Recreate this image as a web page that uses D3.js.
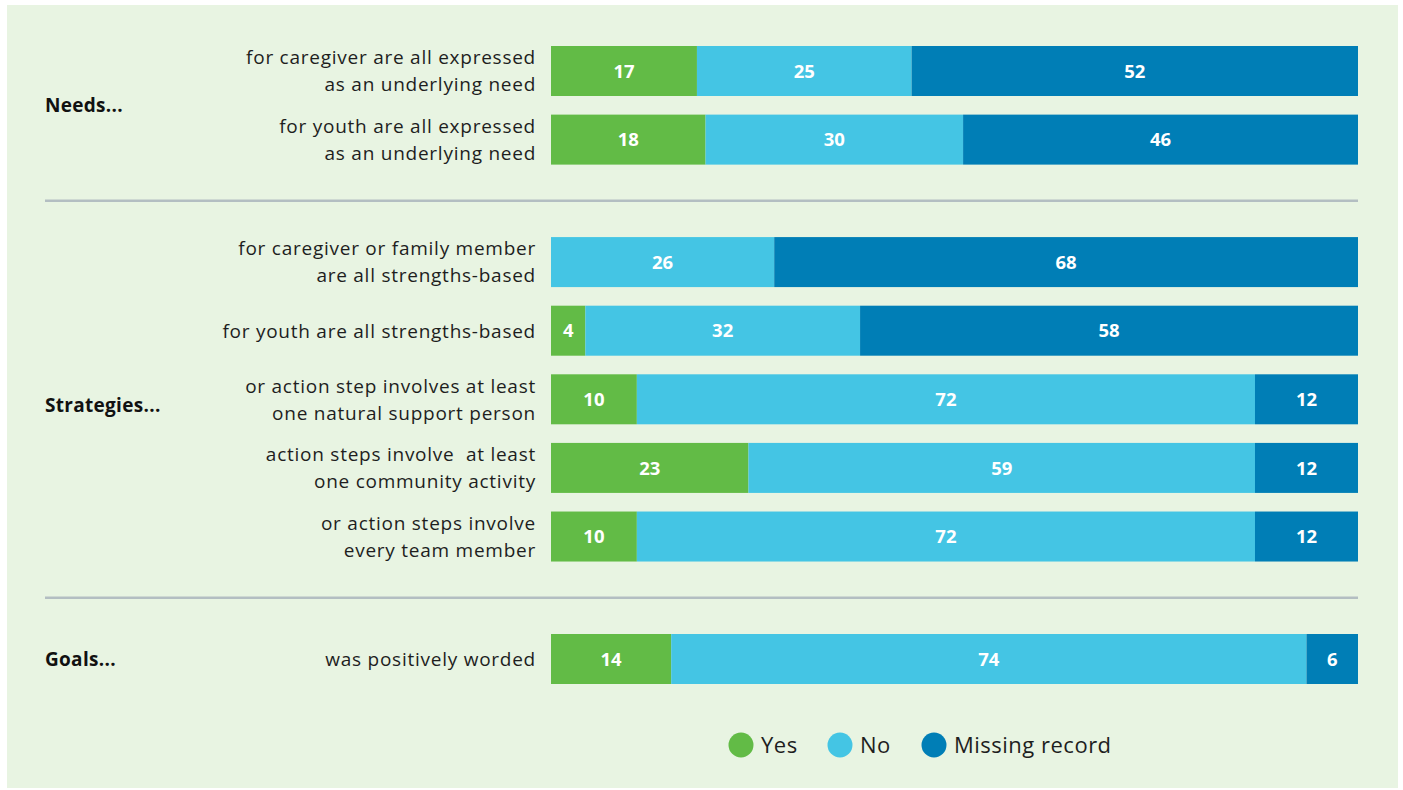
<!DOCTYPE html>
<html>
<head>
<meta charset="utf-8">
<script src="https://cdn.jsdelivr.net/npm/d3@7"></script>
<style>
  html, body { margin: 0; padding: 0; background: #ffffff; }
  svg { display: block; }
  text { font-family: "Open Sans", Lato, sans-serif; white-space: pre; }
</style>
</head>
<body>
<svg id="chart" width="1403" height="790"></svg>
<script>
// Response categories (stack order, left to right)
const categories = ["Yes", "No", "Missing record"];
const colors = ["#62bb46", "#44c5e4", "#007eb6"];

// Section headers and which section each row belongs to
const groups = ["Needs...", "Strategies...", "Goals..."];
const rowGroup = [0, 0, 1, 1, 1, 1, 1, 2];

// Row labels (each entry is the list of lines)
const rowLabels = [
  ["for caregiver are all expressed", "as an underlying need"],
  ["for youth are all expressed", "as an underlying need"],
  ["for caregiver or family member", "are all strengths-based"],
  ["for youth are all strengths-based"],
  ["or action step involves at least", "one natural support person"],
  ["action steps involve  at least", "one community activity"],
  ["or action steps involve", "every team member"],
  ["was positively worded"]
];

// Counts per row
const yesValues     = [17, 18, 0, 4, 10, 23, 10, 14];
const noValues      = [25, 30, 26, 32, 72, 59, 72, 74];
const missingValues = [52, 46, 68, 58, 12, 12, 12, 6];

const svg = d3.select("#chart");

// panel background
svg.append("rect")
  .attr("x", 7).attr("y", 5).attr("width", 1391).attr("height", 783)
  .attr("fill", "#e8f4e2");

const rows = rowLabels.map((lab, i) => ({
  i, lab, group: rowGroup[i],
  values: [yesValues[i], noValues[i], missingValues[i]]
}));

const total = d3.max(rows, r => d3.sum(r.values));
const x = d3.scaleLinear().domain([0, total]).range([551, 1358]);

// vertical slot: row index plus extra spacing between sections
const groupGap = 0.785;
const slot = r => r.i + r.group * groupGap;
const y = d3.scaleLinear()
  .domain([0, slot(rows[rows.length - 1])])
  .range([46, 634]);
const barH = 50;

const stackData = rows.map(r => {
  let acc = 0;
  return r.values.map((v, k) => {
    const seg = { row: r, k, v, x0: acc, x1: acc + v };
    acc += v;
    return seg;
  });
});

const rowG = svg.selectAll("g.row").data(rows).join("g")
  .attr("class", "row")
  .attr("transform", r => `translate(0,${y(slot(r))})`);

rowG.selectAll("rect.seg")
  .data((r, i) => stackData[i].filter(s => s.v > 0))
  .join("rect")
  .attr("class", "seg")
  .attr("x", s => x(s.x0))
  .attr("width", s => x(s.x1) - x(s.x0))
  .attr("y", 0)
  .attr("height", barH)
  .attr("fill", s => colors[s.k]);

rowG.selectAll("text.val")
  .data((r, i) => stackData[i].filter(s => s.v > 0))
  .join("text")
  .attr("class", "val")
  .attr("x", s => (x(s.x0) + x(s.x1)) / 2)
  .attr("y", barH / 2)
  .attr("dy", "0.36em")
  .attr("text-anchor", "middle")
  .attr("fill", "#ffffff")
  .attr("font-size", 18.5)
  .attr("font-weight", 700)
  .text(s => s.v);

// row labels, right-aligned against the bars
const lineH = 27;
rowG.append("text")
  .attr("class", "lab")
  .attr("text-anchor", "end")
  .attr("fill", "#1e1e1e")
  .attr("font-size", 19)
  .attr("letter-spacing", 0.75)
  .each(function (r) {
    const n = r.lab.length;
    d3.select(this).selectAll("tspan").data(r.lab).join("tspan")
      .attr("x", 536)
      .attr("y", (d, j) => barH / 2 + (j - (n - 1) / 2) * lineH)
      .attr("dy", "0.36em")
      .text(d => d);
  });

// section headers, centred on their rows (middle one sits a touch lower)
const headerShift = [0, 6, 0];
groups.forEach((g, gi) => {
  const members = rows.filter(r => r.group === gi);
  const top = y(slot(members[0]));
  const bottom = y(slot(members[members.length - 1])) + barH;
  svg.append("text")
    .attr("x", 45)
    .attr("y", (top + bottom) / 2 + headerShift[gi])
    .attr("dy", "0.36em")
    .attr("fill", "#111111")
    .attr("font-size", 19)
    .attr("font-weight", 700)
    .attr("letter-spacing", 0.3)
    .text(g);
});

// separators between sections
for (let gi = 1; gi < groups.length; gi++) {
  const prev = rows.filter(r => r.group === gi - 1);
  const next = rows.filter(r => r.group === gi);
  const yy = (y(slot(prev[prev.length - 1])) + barH + y(slot(next[0]))) / 2;
  svg.append("line")
    .attr("x1", 45).attr("x2", 1358)
    .attr("y1", yy).attr("y2", yy)
    .attr("stroke", "#b3bec2")
    .attr("stroke-width", 2.5);
}

// legend
const legendX = [741, 840, 934];
const legend = svg.append("g").attr("transform", "translate(0,745)");
categories.forEach((c, k) => {
  legend.append("circle")
    .attr("cx", legendX[k]).attr("cy", 0).attr("r", 12.5)
    .attr("fill", colors[k]);
  legend.append("text")
    .attr("x", legendX[k] + 20).attr("y", 0).attr("dy", "0.36em")
    .attr("fill", "#1e1e1e")
    .attr("font-size", 22)
    .attr("letter-spacing", 0.5)
    .text(c);
});
</script>
</body>
</html>
